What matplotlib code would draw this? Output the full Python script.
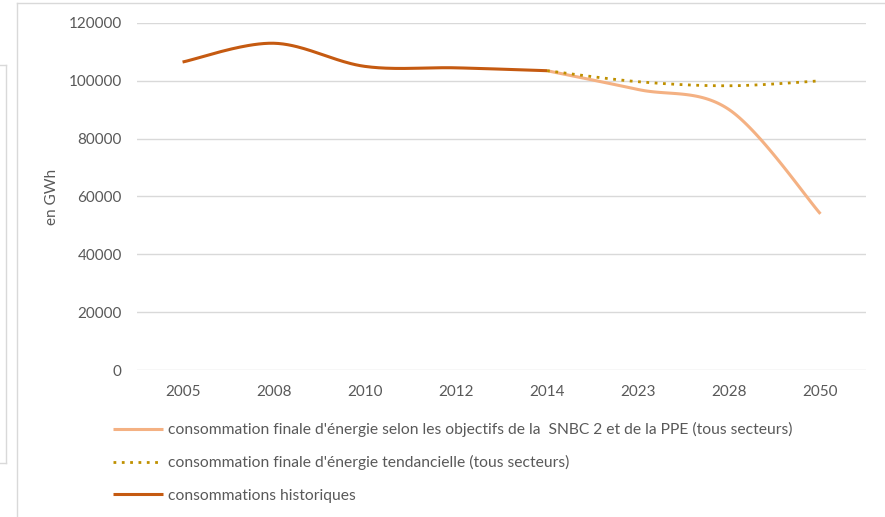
import numpy as np
import matplotlib.pyplot as plt
from matplotlib.lines import Line2D

plt.rcParams['font.family'] = ['Lato', 'DejaVu Sans']

annees = ['2005', '2008', '2010', '2012', '2014', '2023', '2028', '2050']
historique = [106500, 113000, 105000, 104500, 103500]
snbc = [103500, 97000, 90000, 54000]
tendanciel = [103500, 99700, 98300, 100000]
yticks = [0, 20000, 40000, 60000, 80000, 100000, 120000]

lbl_snbc = "consommation finale d'énergie selon les objectifs de la  SNBC 2 et de la PPE (tous secteurs)"
lbl_tend = "consommation finale d'énergie tendancielle (tous secteurs)"
lbl_hist = "consommations historiques"

gris = '#595959'


def lisse(xs, ys, n=40):
    # courbe lissee facon Excel (bezier type catmull-rom)
    pts = np.column_stack([xs, ys]).astype(float)
    pad = np.vstack([pts[0], pts, pts[-1]])
    out = []
    for i in range(len(pts) - 1):
        p0, p1, p2, p3 = pad[i], pad[i + 1], pad[i + 2], pad[i + 3]
        c1 = p1 + (p2 - p0) / 6
        c2 = p2 - (p3 - p1) / 6
        t = np.linspace(0, 1, n)[:, None]
        seg = (1 - t)**3 * p1 + 3 * (1 - t)**2 * t * c1 + 3 * (1 - t) * t**2 * c2 + t**3 * p2
        out.append(seg if i == 0 else seg[1:])
    arr = np.vstack(out)
    return arr[:, 0], arr[:, 1]


W, H = 885, 517
fig = plt.figure(figsize=(W / 100, H / 100), dpi=100)
ax = fig.add_axes([137 / W, 1 - 370 / H, 729 / W, (370 - 23) / H])

x_hist = np.arange(len(historique))
x_proj = np.arange(4, 4 + len(snbc))

ax.plot(*lisse(x_proj, snbc), color='#F4B183', lw=2.2, solid_capstyle='butt', zorder=3, label=lbl_snbc)
ax.plot(*lisse(x_proj, tendanciel), color='#BF9000', lw=2.0, linestyle=(0, (1, 2)), zorder=4, label=lbl_tend)
ax.plot(*lisse(x_hist, historique), color='#C55A11', lw=2.2, solid_capstyle='butt', zorder=5, label=lbl_hist)

ax.set_xlim(-0.5, len(annees) - 0.5)
ax.set_ylim(0, 120000)
ax.set_xticks(range(len(annees)))
ax.set_xticklabels(annees)
ax.set_yticks(yticks)
ax.set_yticklabels([str(v) for v in yticks])
ax.tick_params(length=0, labelsize=11, labelcolor=gris)
ax.tick_params(axis='y', pad=11)
ax.tick_params(axis='x', pad=11)
ax.grid(axis='y', color='#D9D9D9', lw=1)
ax.set_axisbelow(True)
for s in ax.spines.values():
    s.set_visible(False)
ax.set_ylabel('en GWh', fontsize=11, color=gris)
ax.yaxis.set_label_coords((59 - 137) / 729, 0.5)

fig.legend(loc='upper left', bbox_to_anchor=(113 / W, 1 - 422 / H), frameon=False,
           fontsize=11.25, labelcolor=gris, handlelength=3.2, handletextpad=0.3,
           labelspacing=1.17, borderpad=0, borderaxespad=0)

# cadres gris
bord = '#D9D9D9'
fig.add_artist(Line2D([17 / W, 17 / W], [0, 1 - 3 / H], color=bord, lw=1))
fig.add_artist(Line2D([17 / W, 1], [1 - 3 / H, 1 - 3 / H], color=bord, lw=1))
fig.add_artist(Line2D([6 / W, 6 / W], [1 - 65 / H, 1 - 463 / H], color=bord, lw=1))
fig.add_artist(Line2D([0, 6 / W], [1 - 65 / H, 1 - 65 / H], color=bord, lw=1))
fig.add_artist(Line2D([0, 6 / W], [1 - 463 / H, 1 - 463 / H], color=bord, lw=1))

fig.savefig('out.png', dpi=100)
